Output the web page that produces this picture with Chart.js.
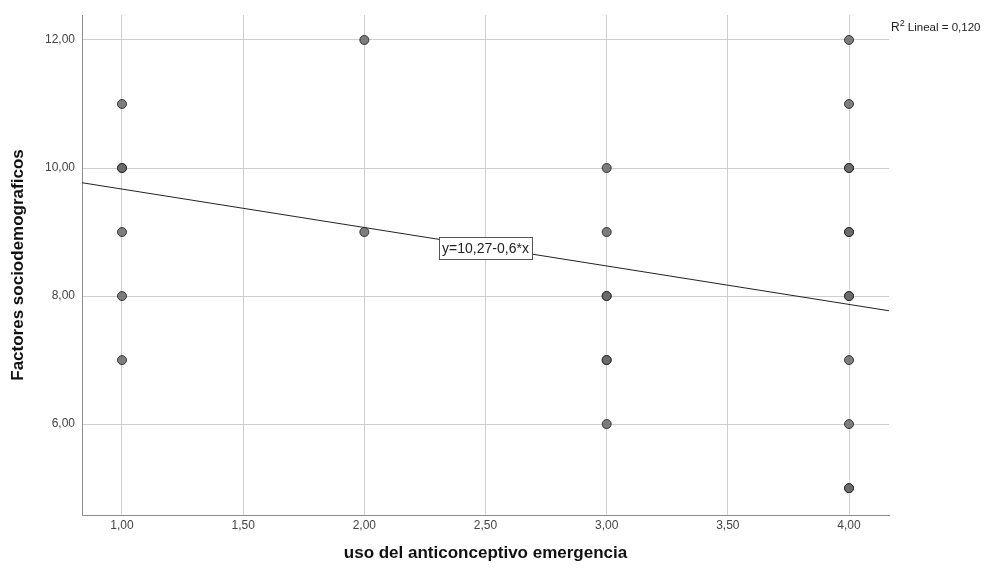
<!DOCTYPE html>
<html lang="es">
<head>
    <meta charset="UTF-8">
    <title>Factores sociodemograficos vs uso del anticonceptivo emergencia</title>
    <script src="https://cdn.jsdelivr.net/npm/chart.js"></script>
    <style>
        html, body { margin: 0; padding: 0; background: white; }
        #wrap { width: 990px; height: 570px; }
    </style>
</head>
<body>
<div id="wrap"><canvas id="scatterChart"></canvas></div>
<script>
    // observations (duplicates kept, they overlap and look darker)
    const usoX = [1, 1, 1, 1, 1, 1,
                  2, 2,
                  3, 3, 3, 3, 3, 3, 3,
                  4, 4, 4, 4, 4, 4, 4, 4, 4, 4, 4, 4];
    const factoresY = [11, 10, 10, 9, 8, 7,
                       12, 9,
                       10, 9, 8, 8, 7, 7, 6,
                       12, 11, 10, 10, 9, 9, 8, 8, 7, 6, 5, 5];

    // fit line y=10,27-0,6*x, endpoints read at the axis edges
    const fitX = [0.835, 4.165];
    const fitY = [9.77, 7.77];

    const xTicks = [1, 1.5, 2, 2.5, 3, 3.5, 4];
    const yTicks = [6, 8, 10, 12];
    const xRange = [0.835, 4.165];
    const yRange = [4.58, 12.39];

    const equationText = 'y=10,27-0,6*x';
    const equationAt = { x: 2.5, y: 8.75 };
    const r2Text = ' Lineal = 0,120';

    const fontFamily = '"Liberation Sans", Arial, sans-serif';
    const fmt = v => Number(v).toFixed(2).replace('.', ',');

    const labelsPlugin = {
        id: 'labels',
        afterDatasetsDraw(chart) {
            const ctx = chart.ctx;
            const xs = chart.scales.x, ys = chart.scales.y;
            // equation box
            const px = xs.getPixelForValue(equationAt.x);
            const py = ys.getPixelForValue(equationAt.y);
            ctx.save();
            ctx.font = '14px ' + fontFamily;
            const w = Math.round(ctx.measureText(equationText).width + 6);
            const h = 22;
            const bx = Math.round(px - w / 2), by = Math.round(py - h / 2);
            ctx.fillStyle = 'white';
            ctx.fillRect(bx, by, w, h);
            ctx.strokeStyle = '#555';
            ctx.lineWidth = 1;
            ctx.strokeRect(bx + 0.5, by + 0.5, w, h);
            ctx.fillStyle = '#222';
            ctx.textAlign = 'center';
            ctx.textBaseline = 'middle';
            ctx.fillText(equationText, px, py + 1);

            // R2 label top right
            const a = chart.chartArea;
            let tx = a.right + 2;
            const ty = a.top + 16;
            ctx.textAlign = 'left';
            ctx.textBaseline = 'alphabetic';
            ctx.font = '12px ' + fontFamily;
            ctx.fillText('R', tx, ty);
            tx += ctx.measureText('R').width;
            ctx.font = '9px ' + fontFamily;
            ctx.fillText('2', tx, ty - 5);
            tx += ctx.measureText('2').width;
            ctx.font = '11.5px ' + fontFamily;
            ctx.fillText(r2Text, tx, ty);
            ctx.restore();
        }
    };

    const points = usoX.map((x, i) => ({ x: x, y: factoresY[i] }));
    const fitLine = fitX.map((x, i) => ({ x: x, y: fitY[i] }));

    new Chart(document.getElementById('scatterChart'), {
        type: 'scatter',
        data: {
            datasets: [
                {
                    label: 'Ajuste lineal',
                    data: fitLine,
                    showLine: true,
                    borderColor: '#222',
                    borderWidth: 1,
                    pointRadius: 0,
                    order: 2
                },
                {
                    label: 'Observados',
                    data: points,
                    pointRadius: 4.5,
                    pointBackgroundColor: 'rgba(105,105,105,0.85)',
                    pointBorderColor: 'rgba(40,40,40,0.9)',
                    pointBorderWidth: 1,
                    order: 1
                }
            ]
        },
        options: {
            responsive: true,
            maintainAspectRatio: false,
            animation: false,
            layout: { padding: { top: 15, right: 101, left: 0, bottom: 0 } },
            plugins: {
                legend: { display: false },
                tooltip: { enabled: false }
            },
            scales: {
                x: {
                    type: 'linear',
                    min: xRange[0],
                    max: xRange[1],
                    afterBuildTicks: s => { s.ticks = xTicks.map(v => ({ value: v })); },
                    afterFit: s => { s.height = 55; },
                    grid: { color: '#cfcfcf', drawTicks: false },
                    border: { display: true, color: '#8e8e8e' },
                    ticks: {
                        padding: 3,
                        color: '#444',
                        font: { family: fontFamily, size: 12 },
                        callback: v => fmt(v)
                    },
                    title: {
                        display: true,
                        text: 'uso del anticonceptivo emergencia',
                        color: '#111',
                        padding: { top: 0, bottom: 6 },
                        font: { family: fontFamily, size: 17, weight: 'bold' }
                    }
                },
                y: {
                    type: 'linear',
                    min: yRange[0],
                    max: yRange[1],
                    afterBuildTicks: s => { s.ticks = yTicks.map(v => ({ value: v })); },
                    afterFit: s => { s.width = 82; },
                    grid: { color: '#cfcfcf', drawTicks: false },
                    border: { display: true, color: '#8e8e8e' },
                    ticks: {
                        padding: 7,
                        color: '#444',
                        font: { family: fontFamily, size: 12 },
                        callback: v => fmt(v)
                    },
                    title: {
                        display: true,
                        text: 'Factores sociodemograficos',
                        color: '#111',
                        padding: { top: 8, bottom: 0 },
                        font: { family: fontFamily, size: 17, weight: 'bold' }
                    }
                }
            }
        },
        plugins: [labelsPlugin]
    });
</script>
</body>
</html>
